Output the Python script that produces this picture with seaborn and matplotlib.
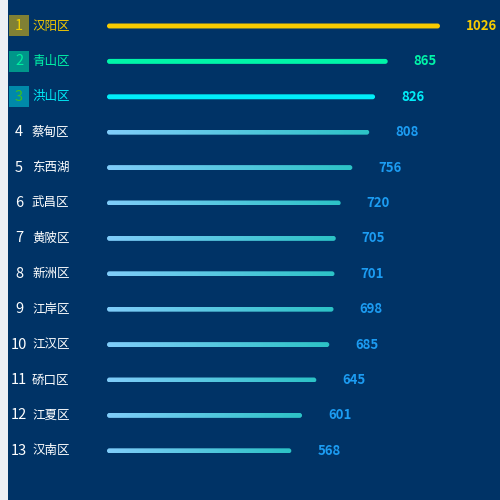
"""Ranking chart of Wuhan districts."""

import matplotlib

matplotlib.use("Agg")
import matplotlib.pyplot as plt
import numpy as np
import pandas as pd
import seaborn as sns
from matplotlib.colors import LinearSegmentedColormap
from matplotlib.patches import FancyBboxPatch, Rectangle
from matplotlib.transforms import blended_transform_factory

districts = ["汉阳区", "青山区", "洪山区", "蔡甸区", "东西湖", "武昌区", "黄陂区",
             "新洲区", "江岸区", "江汉区", "硚口区", "江夏区", "汉南区"]
values = [1026, 865, 826, 808, 756, 720, 705, 701, 698, 685, 645, 601, 568]
ranks = list(range(1, len(districts) + 1))

BG = "#003366"
top_colors = ["#f7cb00", "#00f5a8", "#00edf8"]
badge_colors = ["#808034", "#00968a", "#0089a9"]
badge_text = ["#f2d000", "#00f0a0", "#3cc020"]
grad_left, grad_right = "#80cdfa", "#2cc3c6"
value_blue = "#1c9cf2"

sns.set_theme(style="white")
plt.rcParams["font.family"] = ["Noto Sans CJK SC", "DejaVu Sans"]

df = pd.DataFrame({"district": districts, "value": values})

fig = plt.figure(figsize=(5, 5), dpi=100, facecolor="#eef0f4")
fig.patches.append(Rectangle((8 / 500, 0), 1, 1.01, transform=fig.transFigure,
                             facecolor=BG, edgecolor="none", zorder=-10))
ax = fig.add_axes([8 / 500, 0, 492 / 500, 1])
ax.set_facecolor("none")

sns.barplot(data=df, x="value", y="district", orient="h", width=0.14,
            color=grad_right, ax=ax, saturation=1)

ax.set_xlim(-305, 1211)
ax.set_ylim(13.39, -0.734)
ax.set_axis_off()

cmap = LinearSegmentedColormap.from_list("bar", [grad_left, grad_right])
grad = np.linspace(0, 1, 256).reshape(1, -1)

# data units per pixel on each axis, for the round caps
xu = (1211 + 305) / 492
yu = (13.39 + 0.734) / 500

for i, patch in enumerate(ax.patches[:len(values)]):
    x0, y0 = patch.get_x(), patch.get_y()
    w, h = patch.get_width(), patch.get_height()
    patch.set_visible(False)
    r = 2.5 * xu
    fancy = FancyBboxPatch((x0, y0), w, h,
                           boxstyle=f"round,pad=0,rounding_size={r}",
                           mutation_aspect=yu / xu,
                           facecolor="none", edgecolor="none")
    ax.add_patch(fancy)
    if i < 3:
        fancy.set_facecolor(top_colors[i])
    else:
        im = ax.imshow(grad, cmap=cmap, aspect="auto",
                       extent=(x0, x0 + w, y0 + h, y0), zorder=2)
        im.set_clip_path(fancy)

    vcol = top_colors[i] if i < 3 else value_blue
    ax.annotate(str(values[i]), xy=(x0 + w, i), xytext=(26, 0),
                textcoords="offset pixels", ha="left", va="center",
                fontsize=9.5, fontweight="bold", color=vcol)

tr = blended_transform_factory(ax.transAxes, ax.transData)
for i, (rk, name) in enumerate(zip(ranks, districts)):
    if i < 3:
        ax.add_patch(Rectangle((1 / 492, i - 10.5 * yu), 20 / 492, 21 * yu,
                               transform=tr, facecolor=badge_colors[i],
                               edgecolor="none"))
        ncol = badge_text[i]
        lcol = top_colors[i]
    else:
        ncol = "white"
        lcol = "white"
    ax.text(0.0224, i, str(rk), transform=tr, ha="center", va="center",
            fontsize=10.5, color=ncol)
    ax.text(0.0488, i, name, transform=tr, ha="left", va="center",
            fontsize=9, color=lcol)

fig.savefig("out.png", dpi=100, facecolor=fig.get_facecolor())
plt.close(fig)
